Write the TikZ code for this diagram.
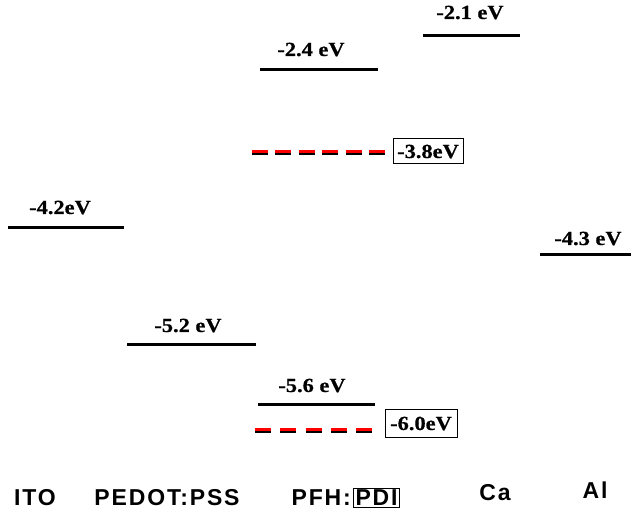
\documentclass[tikz,border=0pt]{standalone}
\usepackage{fontspec}
\setmainfont{Liberation Serif}[FakeStretch=1.12, BoldFeatures={FakeBold=0.6}]
\setsansfont{Liberation Sans}[LetterSpace=8]
\begin{document}
\begin{tikzpicture}[x=1pt,y=-1pt,
  level/.style={line width=3pt},
  shadowdash/.style={line width=4.5pt, black},
  reddash/.style={line width=3pt, red},
  elab/.style={font=\fontsize{20}{22}\selectfont\bfseries, inner sep=0pt, anchor=base},
  blab/.style={font=\fontsize{20}{22}\selectfont\bfseries, inner sep=0pt, draw, line width=1pt},
  mat/.style={font=\sffamily\fontsize{23}{24}\selectfont\bfseries, inner sep=0pt, anchor=base},
]
\useasboundingbox (0,0) rectangle (633,526);
% ITO
\draw[level] (8,228) -- (124,228);
\node[elab] (ito) at (60,214) {-4.2eV};
% PEDOT:PSS
\draw[level] (127,345) -- (256,345);
\node[elab] (pedot) at (188,332) {-5.2 eV};
% PFH
\draw[level] (260,70) -- (378,70);
\node[elab] (pfhl) at (311,56) {-2.4 eV};
\draw[level] (258,405) -- (375,405);
\node[elab] (pfhh) at (312,392) {-5.6 eV};
% PDI
\draw[shadowdash, dash pattern=on 16pt off 7.4pt] (252,153) -- (385,153);
\draw[reddash, dash pattern=on 16pt off 7.4pt] (252,151.5) -- (385,151.5);
\node[blab, minimum width=70pt, minimum height=25pt] (pdil) at (428,151.5) {-3.8eV};
\draw[shadowdash, dash pattern=on 16pt off 9.25pt] (255,431) -- (372,431);
\draw[reddash, dash pattern=on 16pt off 9.25pt] (255,429.5) -- (372,429.5);
\node[blab, minimum width=72pt, minimum height=28pt] (pdih) at (421,423.5) {-6.0eV};
% Ca
\draw[level] (423,36) -- (520,36);
\node[elab] (ca) at (470,19) {-2.1 eV};
% Al
\draw[level] (540,255) -- (631,255);
\node[elab] (al) at (588,245) {-4.3 eV};
% materials
\node[mat] (mito) at (35,506) {ITO};
\node[mat] (mpedot) at (167,506) {PEDOT:PSS};
\node[mat, anchor=base east] (mpfh) at (351,506) {PFH:};
\node[mat, draw, line width=1pt, anchor=base west, inner sep=2pt] (mpdi) at (353,506) {PDI};
\node[mat] (mca) at (495,501) {Ca};
\node[mat] (mal) at (595,499) {Al};
\end{tikzpicture}
\end{document}
